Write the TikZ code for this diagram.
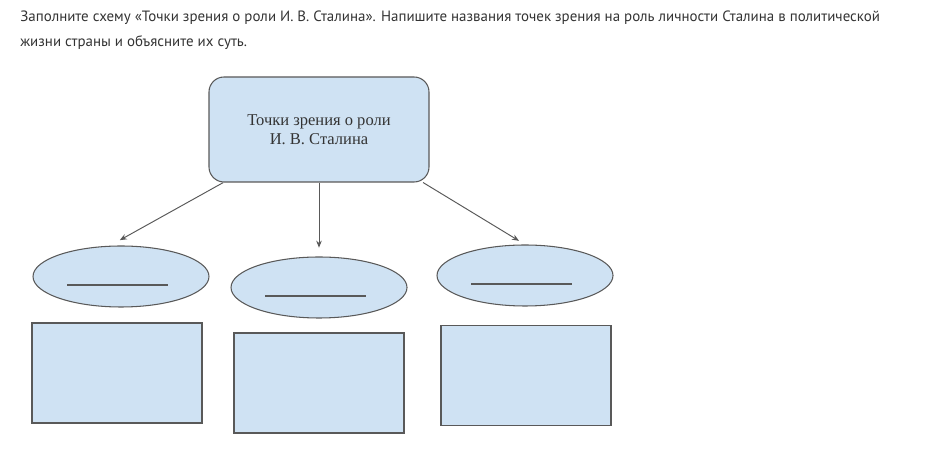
\documentclass[tikz,border=0pt]{standalone}
\usepackage{fontspec}
\setmainfont{Liberation Serif}
\newfontfamily\headfont{PT Sans}
\usetikzlibrary{positioning, arrows.meta, shapes.geometric, calc}
\definecolor{boxfill}{HTML}{CFE2F3}
\definecolor{boxline}{HTML}{595959}
\definecolor{txt}{HTML}{333333}
\begin{document}
\begin{tikzpicture}[
  hbox/.style={rounded corners=0.3cm, minimum width=4.4cm, minimum height=2.1cm, align=center,
               font=\fontsize{9.4}{10.8}\selectfont, text=txt, fill=boxfill, draw=boxline, line width=0.6pt},
  vbox/.style={ellipse, minimum width=3.52cm, minimum height=1.22cm, inner sep=0pt,
               fill=boxfill, draw=boxline, line width=0.6pt},
  ebox/.style={rectangle, minimum width=3.4cm, minimum height=2cm, inner sep=0pt,
               fill=boxfill, draw=boxline, line width=0.7pt},
  link/.style={boxline, line width=0.55pt, -{Stealth[length=4pt, width=3.2pt]}, shorten >=4pt},
  blank/.style={boxline, line width=0.7pt},
]
  \useasboundingbox (0,0) rectangle (18.56,-9.48);

  % Task text
  \node[anchor=west, inner sep=0pt, text=txt, font=\headfont\fontsize{8.5}{10}\selectfont] (q1) at (0.4,-0.36)
    {Заполните схему «Точки зрения о роли И. В. Сталина». Напишите названия точек зрения на роль личности Сталина в политической};
  \node[anchor=west, inner sep=0pt, text=txt, font=\headfont\fontsize{8.5}{10}\selectfont] (q2) at (0.4,-0.86)
    {жизни страны и объясните их суть.};

  \node[hbox] (top) at (6.38,-2.59) {Точки зрения о роли\\И. В. Сталина};

  % Points of view
  \node[vbox] (v1) at (2.42,-5.53) {};
  \node[vbox] (v2) at (6.38,-5.75) {};
  \node[vbox] (v3) at (10.5,-5.51) {};
  \foreach \s in {v1, v2, v3} {
    \draw[blank] ([xshift=-1.08cm, yshift=-0.17cm]\s.center) -- ++(2.02,0);
  }

  % Explanations
  \node[ebox] (x1) at (2.34,-7.46) {};
  \node[ebox] (x2) at (6.38,-7.66) {};
  \node[ebox] (x3) at (10.52,-7.51) {};

  \draw[link, shorten >=6.5pt] (top.-151.6) -- (v1.110);
  \draw[link, shorten >=5pt] (top.south) -- (v2.north);
  \draw[link] (top.-27.7) -- (v3.north);
\end{tikzpicture}
\end{document}
